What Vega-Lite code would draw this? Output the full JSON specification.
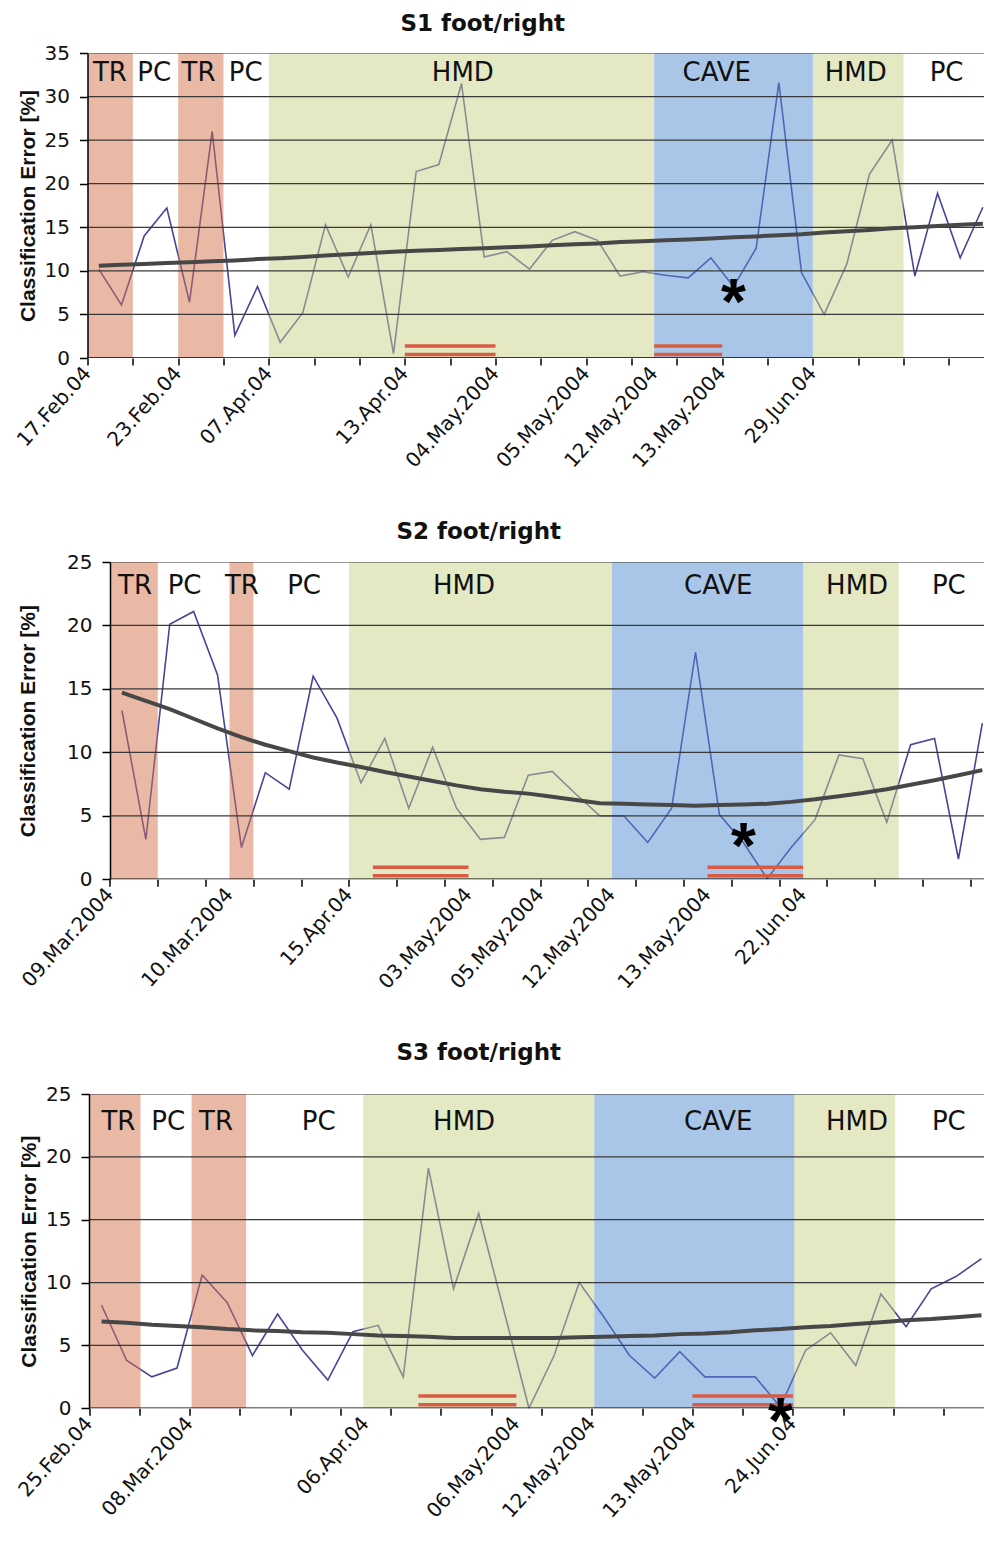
{
"$schema": "https://vega.github.io/schema/vega-lite/v6.json",
"padding": {"left": 13.5, "top": 13, "right": 0, "bottom": 0},
"config": {"view": {"stroke": null}},
"datasets": {
"s1": [
{"c":0,"err":10.2,"trend":10.6},{"c":1,"err":6.1,"trend":10.7},{"c":2,"err":14.0,"trend":10.8},{"c":3,"err":17.2,"trend":10.9},{"c":4,"err":6.4,"trend":11.0},
{"c":5,"err":26.0,"trend":11.1},{"c":6,"err":2.6,"trend":11.2},{"c":7,"err":8.2,"trend":11.35},{"c":8,"err":1.8,"trend":11.45},{"c":9,"err":5.2,"trend":11.6},
{"c":10,"err":15.3,"trend":11.75},{"c":11,"err":9.3,"trend":11.9},{"c":12,"err":15.3,"trend":12.05},{"c":13,"err":0.5,"trend":12.2},{"c":14,"err":21.4,"trend":12.3},
{"c":15,"err":22.2,"trend":12.4},{"c":16,"err":31.5,"trend":12.5},{"c":17,"err":11.6,"trend":12.6},{"c":18,"err":12.2,"trend":12.7},{"c":19,"err":10.2,"trend":12.8},
{"c":20,"err":13.5,"trend":12.95},{"c":21,"err":14.5,"trend":13.05},{"c":22,"err":13.5,"trend":13.15},{"c":23,"err":9.4,"trend":13.3},{"c":24,"err":9.9,"trend":13.4},
{"c":25,"err":9.5,"trend":13.5},{"c":26,"err":9.2,"trend":13.6},{"c":27,"err":11.5,"trend":13.7},{"c":28,"err":8.2,"trend":13.85},{"c":29,"err":12.6,"trend":13.95},
{"c":30,"err":31.6,"trend":14.1},{"c":31,"err":9.8,"trend":14.2},{"c":32,"err":5.0,"trend":14.4},{"c":33,"err":10.8,"trend":14.55},{"c":34,"err":21.1,"trend":14.7},
{"c":35,"err":25.0,"trend":14.9},{"c":36,"err":9.4,"trend":15.0},{"c":37,"err":18.9,"trend":15.15},{"c":38,"err":11.5,"trend":15.3},{"c":39,"err":17.3,"trend":15.4}
],
"s2": [
{"c":0,"err":13.3,"trend":14.7},{"c":1,"err":3.15,"trend":14.05},{"c":2,"err":20.1,"trend":13.4},{"c":3,"err":21.1,"trend":12.65},{"c":4,"err":16.1,"trend":11.9},
{"c":5,"err":2.5,"trend":11.2},{"c":6,"err":8.4,"trend":10.6},{"c":7,"err":7.1,"trend":10.1},{"c":8,"err":16.0,"trend":9.6},{"c":9,"err":12.7,"trend":9.2},
{"c":10,"err":7.6,"trend":8.85},{"c":11,"err":11.1,"trend":8.45},{"c":12,"err":5.6,"trend":8.1},{"c":13,"err":10.4,"trend":7.75},{"c":14,"err":5.6,"trend":7.4},
{"c":15,"err":3.15,"trend":7.1},{"c":16,"err":3.3,"trend":6.9},{"c":17,"err":8.2,"trend":6.75},{"c":18,"err":8.5,"trend":6.5},{"c":19,"err":6.7,"trend":6.25},
{"c":20,"err":5.0,"trend":6.0},{"c":21,"err":5.0,"trend":5.95},{"c":22,"err":2.9,"trend":5.9},{"c":23,"err":5.6,"trend":5.85},{"c":24,"err":17.9,"trend":5.8},
{"c":25,"err":5.1,"trend":5.85},{"c":26,"err":2.9,"trend":5.9},{"c":27,"err":0.05,"trend":5.95},{"c":28,"err":2.5,"trend":6.1},{"c":29,"err":4.7,"trend":6.3},
{"c":30,"err":9.8,"trend":6.55},{"c":31,"err":9.5,"trend":6.8},{"c":32,"err":4.5,"trend":7.1},{"c":33,"err":10.6,"trend":7.45},{"c":34,"err":11.1,"trend":7.8},
{"c":35,"err":1.6,"trend":8.2},{"c":36,"err":12.3,"trend":8.6}
],
"s3": [
{"c":0,"err":8.2,"trend":6.9},{"c":1,"err":3.8,"trend":6.8},{"c":2,"err":2.5,"trend":6.65},{"c":3,"err":3.2,"trend":6.55},{"c":4,"err":10.6,"trend":6.45},
{"c":5,"err":8.4,"trend":6.3},{"c":6,"err":4.2,"trend":6.2},{"c":7,"err":7.5,"trend":6.15},{"c":8,"err":4.6,"trend":6.05},{"c":9,"err":2.25,"trend":6.0},
{"c":10,"err":6.1,"trend":5.9},{"c":11,"err":6.6,"trend":5.8},{"c":12,"err":2.5,"trend":5.75},{"c":13,"err":19.1,"trend":5.7},{"c":14,"err":9.5,"trend":5.6},
{"c":15,"err":15.5,"trend":5.6},{"c":16,"err":7.8,"trend":5.6},{"c":17,"err":0.0,"trend":5.6},{"c":18,"err":4.2,"trend":5.6},{"c":19,"err":10.0,"trend":5.65},
{"c":20,"err":7.2,"trend":5.7},{"c":21,"err":4.2,"trend":5.75},{"c":22,"err":2.4,"trend":5.8},{"c":23,"err":4.5,"trend":5.9},{"c":24,"err":2.5,"trend":5.95},
{"c":25,"err":2.5,"trend":6.05},{"c":26,"err":2.5,"trend":6.2},{"c":27,"err":0.1,"trend":6.3},{"c":28,"err":4.6,"trend":6.45},{"c":29,"err":6.0,"trend":6.55},
{"c":30,"err":3.4,"trend":6.7},{"c":31,"err":9.1,"trend":6.85},{"c":32,"err":6.5,"trend":7.0},{"c":33,"err":9.5,"trend":7.1},{"c":34,"err":10.5,"trend":7.25},
{"c":35,"err":11.9,"trend":7.4}
],
"b1": [{"x0":-0.5,"x1":1.5,"kind":"TR"},{"x0":3.5,"x1":5.5,"kind":"TR"},{"x0":7.5,"x1":24.5,"kind":"HMD"},{"x0":24.5,"x1":31.5,"kind":"CAVE"},{"x0":31.5,"x1":35.5,"kind":"HMD"}],
"b2": [{"x0":-0.5,"x1":1.5,"kind":"TR"},{"x0":4.5,"x1":5.5,"kind":"TR"},{"x0":9.5,"x1":20.5,"kind":"HMD"},{"x0":20.5,"x1":28.5,"kind":"CAVE"},{"x0":28.5,"x1":32.5,"kind":"HMD"}],
"b3": [{"x0":-0.5,"x1":1.55,"kind":"TR"},{"x0":3.58,"x1":5.75,"kind":"TR"},{"x0":10.41,"x1":19.6,"kind":"HMD"},{"x0":19.6,"x1":27.56,"kind":"CAVE"},{"x0":27.56,"x1":31.57,"kind":"HMD"}],
"l1": [{"x":0.49,"y":32.7,"t":"TR"},{"x":2.44,"y":32.7,"t":"PC"},{"x":4.4,"y":32.7,"t":"TR"},{"x":6.48,"y":32.7,"t":"PC"},{"x":16.06,"y":32.7,"t":"HMD"},{"x":27.26,"y":32.7,"t":"CAVE"},{"x":33.39,"y":32.7,"t":"HMD"},{"x":37.4,"y":32.7,"t":"PC"}],
"l2": [{"x":0.55,"y":23.1,"t":"TR"},{"x":2.62,"y":23.1,"t":"PC"},{"x":5.02,"y":23.1,"t":"TR"},{"x":7.62,"y":23.1,"t":"PC"},{"x":14.31,"y":23.1,"t":"HMD"},{"x":24.95,"y":23.1,"t":"CAVE"},{"x":30.76,"y":23.1,"t":"HMD"},{"x":34.6,"y":23.1,"t":"PC"}],
"l3": [{"x":0.67,"y":22.8,"t":"TR"},{"x":2.65,"y":22.8,"t":"PC"},{"x":4.55,"y":22.8,"t":"TR"},{"x":8.64,"y":22.8,"t":"PC"},{"x":14.42,"y":22.8,"t":"HMD"},{"x":24.53,"y":22.8,"t":"CAVE"},{"x":30.05,"y":22.8,"t":"HMD"},{"x":33.7,"y":22.8,"t":"PC"}],
"x1": [{"x":-0.5,"t":"17.Feb.04"},{"x":3.5,"t":"23.Feb.04"},{"x":7.5,"t":"07.Apr.04"},{"x":13.5,"t":"13.Apr.04\u00a0\u00a0\u00a0\u00a0"},{"x":17.5,"t":"04.May.2004"},{"x":21.5,"t":"05.May.2004"},{"x":24.5,"t":"12.May.2004"},{"x":27.5,"t":"13.May.2004"},{"x":31.5,"t":"29.Jun.04"}],
"x2": [{"x":-0.5,"t":"09.Mar.2004"},{"x":4.5,"t":"10.Mar.2004"},{"x":9.5,"t":"15.Apr.04"},{"x":14.5,"t":"03.May.2004"},{"x":17.5,"t":"05.May.2004"},{"x":20.5,"t":"12.May.2004"},{"x":24.5,"t":"13.May.2004"},{"x":28.5,"t":"22.Jun.04"}],
"x3": [{"x":-0.5,"t":"25.Feb.04"},{"x":3.5,"t":"08.Mar.2004"},{"x":10.5,"t":"06.Apr.04"},{"x":16.5,"t":"06.May.2004"},{"x":19.5,"t":"12.May.2004"},{"x":23.5,"t":"13.May.2004"},{"x":27.5,"t":"24.Jun.04"}],
"g35": [{"y":5},{"y":10},{"y":15},{"y":20},{"y":25},{"y":30},{"y":35}],
"g25": [{"y":5},{"y":10},{"y":15},{"y":20},{"y":25}],
"o1": [{"x0":13.5,"x1":17.5,"y":1.38},{"x0":13.5,"x1":17.5,"y":0.4},{"x0":24.5,"x1":27.5,"y":1.38},{"x0":24.5,"x1":27.5,"y":0.4}],
"o2": [{"x0":10.5,"x1":14.5,"y":0.95},{"x0":10.5,"x1":14.5,"y":0.28},{"x0":24.5,"x1":28.5,"y":0.95},{"x0":24.5,"x1":28.5,"y":0.28}],
"o3": [{"x0":12.6,"x1":16.5,"y":0.98},{"x0":12.6,"x1":16.5,"y":0.28},{"x0":23.5,"x1":27.5,"y":0.98},{"x0":23.5,"x1":27.5,"y":0.28}],
"a1": [{"c":28,"v":7.46}],
"a2": [{"c":26,"v":3.34}],
"a3": [{"c":27,"v":0.13}]
},
"concat": [
{
"width": 896.5, "height": 305,
"title": {"text": "S1 foot/right", "font": "DejaVu Sans", "fontWeight": "bold", "fontSize": 23, "color": "#111", "anchor": "middle", "dx": -53, "offset": -16, "baseline": "bottom"},
"layer": [
{"data": {"name": "s1"}, "mark": {"type": "line", "color": "#45459c", "strokeWidth": 1.6, "clip": true},
 "encoding": {
  "x": {"field": "c", "type": "quantitative", "scale": {"domain": [-0.5, 39.05], "nice": false, "zero": false},
   "axis": {"values": [-0.5,0.5,1.5,2.5,3.5,4.5,5.5,6.5,7.5,8.5,9.5,10.5,11.5,12.5,13.5,14.5,15.5,16.5,17.5,18.5,19.5,20.5,21.5,22.5,23.5,24.5,25.5,26.5,27.5,28.5,29.5,30.5,31.5,32.5,33.5,34.5,35.5,36.5,37.5,38.5],
    "labels": false, "domain": false, "tickSize": 7, "tickColor": "#000", "tickWidth": 1.5, "grid": false, "title": null, "zindex": 1}},
  "y": {"field": "err", "type": "quantitative", "scale": {"domain": [0, 35], "nice": false},
   "axis": {"values": [0,5,10,15,20,25,30,35], "grid": false, "tickSize": 8, "tickColor": "#000", "tickWidth": 1.5, "domainColor": "#000", "domainWidth": 1.5,
    "labelFont": "DejaVu Sans", "labelFontSize": 20, "labelColor": "#111", "labelPadding": 10,
    "title": "Classification Error [%]", "titleFont": "Liberation Sans", "titleFontSize": 21, "titleFontWeight": "bold", "titleColor": "#111", "titlePadding": 6, "zindex": 1}}
 }},
{"data": {"name": "b1"}, "mark": {"type": "rect", "opacity": 0.5, "clip": true},
 "encoding": {
  "x": {"field": "x0", "type": "quantitative", "scale": {"domain": [-0.5, 39.05], "nice": false, "zero": false}},
  "x2": {"field": "x1"},
  "color": {"field": "kind", "type": "nominal", "scale": {"domain": ["TR","HMD","CAVE"], "range": ["#d3734d","#c9d389","#538bd1"]}, "legend": null}
 }},
{"data": {"name": "g35"}, "mark": {"type": "rule", "color": "#3a3a3a", "strokeWidth": 1.2, "clip": true},
 "encoding": {
  "x": {"datum": -0.5, "type": "quantitative", "scale": {"domain": [-0.5, 39.05], "nice": false, "zero": false}},
  "x2": {"datum": 60},
  "y": {"field": "y", "type": "quantitative", "scale": {"domain": [0, 35], "nice": false}}
 }},
{"data": {"name": "a1"}, "mark": {"type": "rule", "color": "#000", "strokeWidth": 1.6, "clip": true},
 "encoding": {
  "x": {"datum": -0.5, "type": "quantitative", "scale": {"domain": [-0.5, 39.05], "nice": false, "zero": false}},
  "x2": {"datum": 60},
  "y": {"datum": 0, "type": "quantitative", "scale": {"domain": [0, 35], "nice": false}}
 }},
{"data": {"name": "s1"}, "mark": {"type": "line", "color": "#474747", "strokeWidth": 4, "clip": true},
 "encoding": {
  "x": {"field": "c", "type": "quantitative", "scale": {"domain": [-0.5, 39.05], "nice": false, "zero": false}},
  "y": {"field": "trend", "type": "quantitative", "scale": {"domain": [0, 35], "nice": false}}
 }},
{"data": {"name": "o1"}, "mark": {"type": "rule", "color": "#d95b43", "strokeWidth": 3.5},
 "encoding": {
  "x": {"field": "x0", "type": "quantitative", "scale": {"domain": [-0.5, 39.05], "nice": false, "zero": false}},
  "x2": {"field": "x1"},
  "y": {"field": "y", "type": "quantitative", "scale": {"domain": [0, 35], "nice": false}}
 }},
{"data": {"name": "a1"}, "mark": {"type": "text", "text": "*", "font": "Liberation Sans", "fontWeight": "bold", "fontSize": 64, "color": "#000", "baseline": "middle", "align": "center", "dy": 12},
 "encoding": {
  "x": {"field": "c", "type": "quantitative", "scale": {"domain": [-0.5, 39.05], "nice": false, "zero": false}},
  "y": {"field": "v", "type": "quantitative", "scale": {"domain": [0, 35], "nice": false}}
 }},
{"data": {"name": "l1"}, "mark": {"type": "text", "font": "DejaVu Sans", "fontSize": 26, "color": "#111", "baseline": "middle", "align": "center"},
 "encoding": {
  "x": {"field": "x", "type": "quantitative", "scale": {"domain": [-0.5, 39.05], "nice": false, "zero": false}},
  "y": {"field": "y", "type": "quantitative", "scale": {"domain": [0, 35], "nice": false}},
  "text": {"field": "t"}
 }},
{"data": {"name": "x1"}, "mark": {"type": "text", "font": "DejaVu Sans", "fontSize": 20, "color": "#111", "baseline": "middle", "align": "right", "angle": -48},
 "encoding": {
  "x": {"field": "x", "type": "quantitative", "scale": {"domain": [-0.5, 39.05], "nice": false, "zero": false}},
  "y": {"datum": -1.38, "type": "quantitative", "scale": {"domain": [0, 35], "nice": false}},
  "text": {"field": "t"}
 }}
]
},
{
"width": 896.5, "height": 317.3,
"title": {"text": "S2 foot/right", "font": "DejaVu Sans", "fontWeight": "bold", "fontSize": 23, "color": "#111", "anchor": "middle", "dx": -57, "offset": -15, "baseline": "bottom"},
"layer": [
{"data": {"name": "s2"}, "mark": {"type": "line", "color": "#45459c", "strokeWidth": 1.6, "clip": true},
 "encoding": {
  "x": {"field": "c", "type": "quantitative", "scale": {"domain": [-1.441, 36.07], "nice": false, "zero": false},
   "axis": {"values": [-0.5,0.5,1.5,2.5,3.5,4.5,5.5,6.5,7.5,8.5,9.5,10.5,11.5,12.5,13.5,14.5,15.5,16.5,17.5,18.5,19.5,20.5,21.5,22.5,23.5,24.5,25.5,26.5,27.5,28.5,29.5,30.5,31.5,32.5,33.5,34.5,35.5],
    "labels": false, "domain": false, "tickSize": 7, "tickColor": "#000", "tickWidth": 1.5, "grid": false, "title": null, "zindex": 1}},
  "y": {"field": "err", "type": "quantitative", "scale": {"domain": [0, 25], "nice": false},
   "axis": {"values": [0,5,10,15,20,25], "grid": false, "offset": -22.5, "tickSize": 8, "tickColor": "#000", "tickWidth": 1.5, "domainColor": "#000", "domainWidth": 1.5,
    "labelFont": "DejaVu Sans", "labelFontSize": 20, "labelColor": "#111", "labelPadding": 10,
    "title": "Classification Error [%]", "titleFont": "Liberation Sans", "titleFontSize": 21, "titleFontWeight": "bold", "titleColor": "#111", "titlePadding": 28, "zindex": 1}}
 }},
{"data": {"name": "b2"}, "mark": {"type": "rect", "opacity": 0.5, "clip": true},
 "encoding": {
  "x": {"field": "x0", "type": "quantitative", "scale": {"domain": [-1.441, 36.07], "nice": false, "zero": false}},
  "x2": {"field": "x1"},
  "color": {"field": "kind", "type": "nominal", "scale": {"domain": ["TR","HMD","CAVE"], "range": ["#d3734d","#c9d389","#538bd1"]}, "legend": null}
 }},
{"data": {"name": "g25"}, "mark": {"type": "rule", "color": "#3a3a3a", "strokeWidth": 1.2, "clip": true},
 "encoding": {
  "x": {"datum": -0.5, "type": "quantitative", "scale": {"domain": [-1.441, 36.07], "nice": false, "zero": false}},
  "x2": {"datum": 60},
  "y": {"field": "y", "type": "quantitative", "scale": {"domain": [0, 25], "nice": false}}
 }},
{"data": {"name": "a2"}, "mark": {"type": "rule", "color": "#000", "strokeWidth": 1.6, "clip": true},
 "encoding": {
  "x": {"datum": -0.5, "type": "quantitative", "scale": {"domain": [-1.441, 36.07], "nice": false, "zero": false}},
  "x2": {"datum": 60},
  "y": {"datum": 0, "type": "quantitative", "scale": {"domain": [0, 25], "nice": false}}
 }},
{"data": {"name": "s2"}, "mark": {"type": "line", "color": "#474747", "strokeWidth": 4, "clip": true},
 "encoding": {
  "x": {"field": "c", "type": "quantitative", "scale": {"domain": [-1.441, 36.07], "nice": false, "zero": false}},
  "y": {"field": "trend", "type": "quantitative", "scale": {"domain": [0, 25], "nice": false}}
 }},
{"data": {"name": "o2"}, "mark": {"type": "rule", "color": "#d95b43", "strokeWidth": 3.5},
 "encoding": {
  "x": {"field": "x0", "type": "quantitative", "scale": {"domain": [-1.441, 36.07], "nice": false, "zero": false}},
  "x2": {"field": "x1"},
  "y": {"field": "y", "type": "quantitative", "scale": {"domain": [0, 25], "nice": false}}
 }},
{"data": {"name": "a2"}, "mark": {"type": "text", "text": "*", "font": "Liberation Sans", "fontWeight": "bold", "fontSize": 64, "color": "#000", "baseline": "middle", "align": "center", "dy": 12},
 "encoding": {
  "x": {"field": "c", "type": "quantitative", "scale": {"domain": [-1.441, 36.07], "nice": false, "zero": false}},
  "y": {"field": "v", "type": "quantitative", "scale": {"domain": [0, 25], "nice": false}}
 }},
{"data": {"name": "l2"}, "mark": {"type": "text", "font": "DejaVu Sans", "fontSize": 26, "color": "#111", "baseline": "middle", "align": "center"},
 "encoding": {
  "x": {"field": "x", "type": "quantitative", "scale": {"domain": [-1.441, 36.07], "nice": false, "zero": false}},
  "y": {"field": "y", "type": "quantitative", "scale": {"domain": [0, 25], "nice": false}},
  "text": {"field": "t"}
 }},
{"data": {"name": "x2"}, "mark": {"type": "text", "font": "DejaVu Sans", "fontSize": 20, "color": "#111", "baseline": "middle", "align": "right", "angle": -48},
 "encoding": {
  "x": {"field": "x", "type": "quantitative", "scale": {"domain": [-1.441, 36.07], "nice": false, "zero": false}},
  "y": {"datum": -0.946, "type": "quantitative", "scale": {"domain": [0, 25], "nice": false}},
  "text": {"field": "t"}
 }}
]
},
{
"width": 896.5, "height": 314.3,
"title": {"text": "S3 foot/right", "font": "DejaVu Sans", "fontWeight": "bold", "fontSize": 23, "color": "#111", "anchor": "middle", "dx": -57, "offset": -4, "baseline": "bottom"},
"layer": [
{"data": {"name": "s3"}, "mark": {"type": "line", "color": "#45459c", "strokeWidth": 1.6, "clip": true},
 "encoding": {
  "x": {"field": "c", "type": "quantitative", "scale": {"domain": [-0.56, 35.1], "nice": false, "zero": false},
   "axis": {"values": [-0.5,0.5,1.5,2.5,3.5,4.5,5.5,6.5,7.5,8.5,9.5,10.5,11.5,12.5,13.5,14.5,15.5,16.5,17.5,18.5,19.5,20.5,21.5,22.5,23.5,24.5,25.5,26.5,27.5,28.5,29.5,30.5,31.5,32.5,33.5,34.5],
    "labels": false, "domain": false, "tickSize": 7, "tickColor": "#000", "tickWidth": 1.5, "grid": false, "title": null, "zindex": 1}},
  "y": {"field": "err", "type": "quantitative", "scale": {"domain": [0, 25], "nice": false},
   "axis": {"values": [0,5,10,15,20,25], "grid": false, "offset": -1.5, "tickSize": 8, "tickColor": "#000", "tickWidth": 1.5, "domainColor": "#000", "domainWidth": 1.5,
    "labelFont": "DejaVu Sans", "labelFontSize": 20, "labelColor": "#111", "labelPadding": 10,
    "title": "Classification Error [%]", "titleFont": "Liberation Sans", "titleFontSize": 21, "titleFontWeight": "bold", "titleColor": "#111", "titlePadding": 6, "zindex": 1}}
 }},
{"data": {"name": "b3"}, "mark": {"type": "rect", "opacity": 0.5, "clip": true},
 "encoding": {
  "x": {"field": "x0", "type": "quantitative", "scale": {"domain": [-0.56, 35.1], "nice": false, "zero": false}},
  "x2": {"field": "x1"},
  "color": {"field": "kind", "type": "nominal", "scale": {"domain": ["TR","HMD","CAVE"], "range": ["#d3734d","#c9d389","#538bd1"]}, "legend": null}
 }},
{"data": {"name": "g25"}, "mark": {"type": "rule", "color": "#3a3a3a", "strokeWidth": 1.2, "clip": true},
 "encoding": {
  "x": {"datum": -0.5, "type": "quantitative", "scale": {"domain": [-0.56, 35.1], "nice": false, "zero": false}},
  "x2": {"datum": 60},
  "y": {"field": "y", "type": "quantitative", "scale": {"domain": [0, 25], "nice": false}}
 }},
{"data": {"name": "a3"}, "mark": {"type": "rule", "color": "#000", "strokeWidth": 1.6, "clip": true},
 "encoding": {
  "x": {"datum": -0.5, "type": "quantitative", "scale": {"domain": [-0.56, 35.1], "nice": false, "zero": false}},
  "x2": {"datum": 60},
  "y": {"datum": 0, "type": "quantitative", "scale": {"domain": [0, 25], "nice": false}}
 }},
{"data": {"name": "s3"}, "mark": {"type": "line", "color": "#474747", "strokeWidth": 4, "clip": true},
 "encoding": {
  "x": {"field": "c", "type": "quantitative", "scale": {"domain": [-0.56, 35.1], "nice": false, "zero": false}},
  "y": {"field": "trend", "type": "quantitative", "scale": {"domain": [0, 25], "nice": false}}
 }},
{"data": {"name": "o3"}, "mark": {"type": "rule", "color": "#d95b43", "strokeWidth": 3.5},
 "encoding": {
  "x": {"field": "x0", "type": "quantitative", "scale": {"domain": [-0.56, 35.1], "nice": false, "zero": false}},
  "x2": {"field": "x1"},
  "y": {"field": "y", "type": "quantitative", "scale": {"domain": [0, 25], "nice": false}}
 }},
{"data": {"name": "a3"}, "mark": {"type": "text", "text": "*", "font": "Liberation Sans", "fontWeight": "bold", "fontSize": 64, "color": "#000", "baseline": "middle", "align": "center", "dy": 17},
 "encoding": {
  "x": {"field": "c", "type": "quantitative", "scale": {"domain": [-0.56, 35.1], "nice": false, "zero": false}},
  "y": {"field": "v", "type": "quantitative", "scale": {"domain": [0, 25], "nice": false}}
 }},
{"data": {"name": "l3"}, "mark": {"type": "text", "font": "DejaVu Sans", "fontSize": 26, "color": "#111", "baseline": "middle", "align": "center"},
 "encoding": {
  "x": {"field": "x", "type": "quantitative", "scale": {"domain": [-0.56, 35.1], "nice": false, "zero": false}},
  "y": {"field": "y", "type": "quantitative", "scale": {"domain": [0, 25], "nice": false}},
  "text": {"field": "t"}
 }},
{"data": {"name": "x3"}, "mark": {"type": "text", "font": "DejaVu Sans", "fontSize": 20, "color": "#111", "baseline": "middle", "align": "right", "angle": -48},
 "encoding": {
  "x": {"field": "x", "type": "quantitative", "scale": {"domain": [-0.56, 35.1], "nice": false, "zero": false}},
  "y": {"datum": -0.955, "type": "quantitative", "scale": {"domain": [0, 25], "nice": false}},
  "text": {"field": "t"}
 }}
]
}
],
"columns": 1,
"spacing": 49
}
